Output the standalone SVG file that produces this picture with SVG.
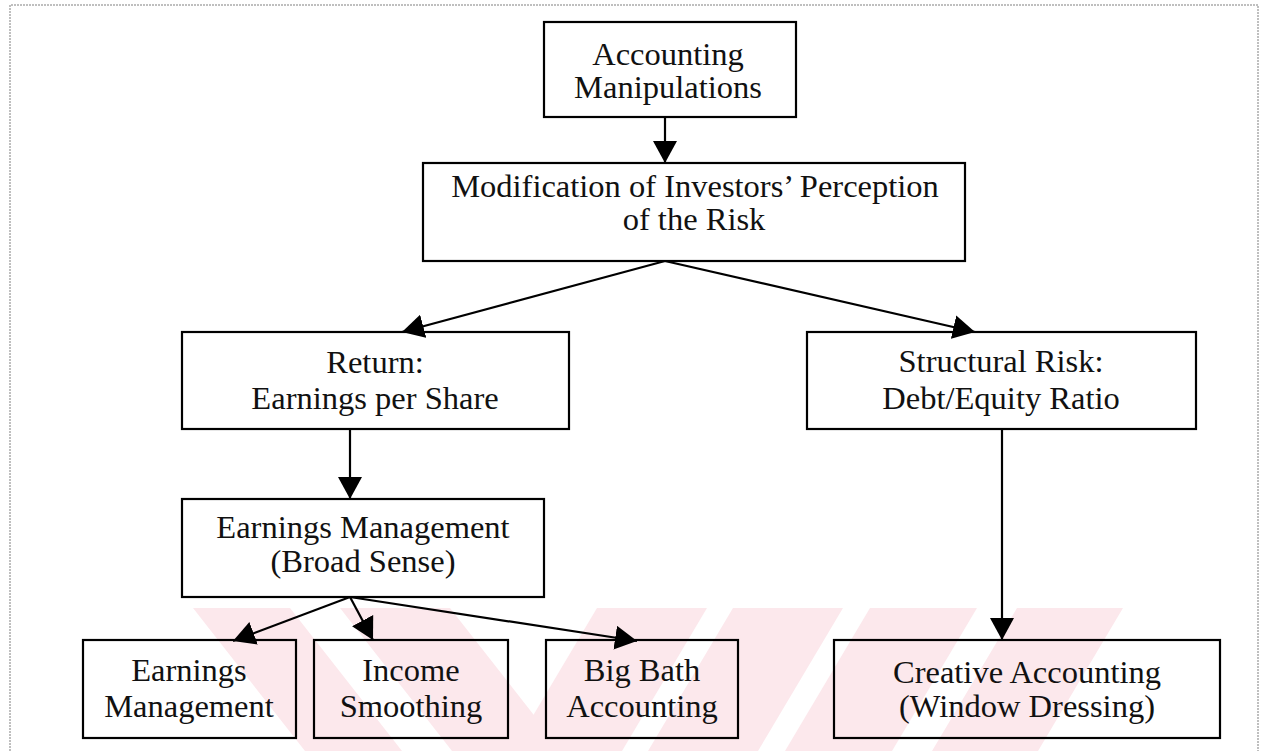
<svg xmlns="http://www.w3.org/2000/svg" width="1261" height="751" viewBox="0 0 1261 751">
<style>
.box{fill:none;stroke:#000;stroke-width:2.2}
.lbl{font-family:"Liberation Serif","Times New Roman",serif;font-size:32.5px;fill:#111;text-anchor:middle}
.con{stroke:#000;stroke-width:2.2;fill:none}
.wm{fill:#fce8ec}
</style>
<defs>
<marker id="ah" viewBox="0 0 22 24" refX="22" refY="12" markerWidth="22" markerHeight="24" markerUnits="userSpaceOnUse" orient="auto">
<path d="M0,0 L22,12 L0,24 z" fill="#000"/>
</marker>
</defs>
<rect width="1261" height="751" fill="#fff"/>
<path d="M10,760 V5 H1258 V760" fill="none" stroke="#aaa" stroke-width="1.5" stroke-dasharray="2 1"/>
<g id="watermark">
<polygon class="wm" points="193,608 290,608 402,751 305,751"/>
<polygon class="wm" points="340,608 450,608 562,751 452,751"/>
<polygon class="wm" points="597,608 707,608 622,751 512,751"/>
<polygon class="wm" points="733,608 843,608 758,751 648,751"/>
<polygon class="wm" points="870,608 977,608 892,751 785,751"/>
<polygon class="wm" points="1017,608 1123,608 1038,751 932,751"/>
</g>
<g id="connectors">
<line class="con" x1="665" y1="117" x2="665" y2="163" marker-end="url(#ah)"/>
<line class="con" x1="665" y1="261" x2="402" y2="332" marker-end="url(#ah)"/>
<line class="con" x1="665" y1="261" x2="975" y2="332" marker-end="url(#ah)"/>
<line class="con" x1="350" y1="429" x2="350" y2="499" marker-end="url(#ah)"/>
<line class="con" x1="350" y1="597" x2="233" y2="641" marker-end="url(#ah)"/>
<line class="con" x1="350" y1="597" x2="373" y2="640" marker-end="url(#ah)"/>
<line class="con" x1="350" y1="597" x2="637" y2="641" marker-end="url(#ah)"/>
<line class="con" x1="1002" y1="429" x2="1002" y2="640" marker-end="url(#ah)"/>
</g>
<g id="n-accounting-manipulations">
<rect class="box" x="544" y="22" width="252" height="95"/>
<text class="lbl" x="668" y="65">Accounting</text>
<text class="lbl" x="668" y="98">Manipulations</text>
</g>
<g id="n-modification">
<rect class="box" x="423" y="163" width="542" height="98"/>
<text class="lbl" x="695" y="197">Modification of Investors’ Perception</text>
<text class="lbl" x="694" y="230">of the Risk</text>
</g>
<g id="n-return">
<rect class="box" x="182" y="332" width="387" height="97"/>
<text class="lbl" x="375" y="373">Return:</text>
<text class="lbl" x="375" y="409">Earnings per Share</text>
</g>
<g id="n-structural">
<rect class="box" x="807" y="332" width="389" height="97"/>
<text class="lbl" x="1001" y="372">Structural Risk:</text>
<text class="lbl" x="1001" y="409">Debt/Equity Ratio</text>
</g>
<g id="n-em-broad">
<rect class="box" x="182" y="499" width="362" height="98"/>
<text class="lbl" x="363" y="538">Earnings Management</text>
<text class="lbl" x="363" y="572">(Broad Sense)</text>
</g>
<g id="n-em">
<rect class="box" x="83" y="640" width="213" height="98"/>
<text class="lbl" x="189" y="681">Earnings</text>
<text class="lbl" x="189" y="717">Management</text>
</g>
<g id="n-income">
<rect class="box" x="314" y="640" width="194" height="98"/>
<text class="lbl" x="411" y="681">Income</text>
<text class="lbl" x="411" y="717">Smoothing</text>
</g>
<g id="n-bigbath">
<rect class="box" x="546" y="640" width="192" height="98"/>
<text class="lbl" x="642" y="681">Big Bath</text>
<text class="lbl" x="642" y="717">Accounting</text>
</g>
<g id="n-creative">
<rect class="box" x="834" y="640" width="386" height="98"/>
<text class="lbl" x="1027" y="683">Creative Accounting</text>
<text class="lbl" x="1027" y="717">(Window Dressing)</text>
</g>
</svg>
